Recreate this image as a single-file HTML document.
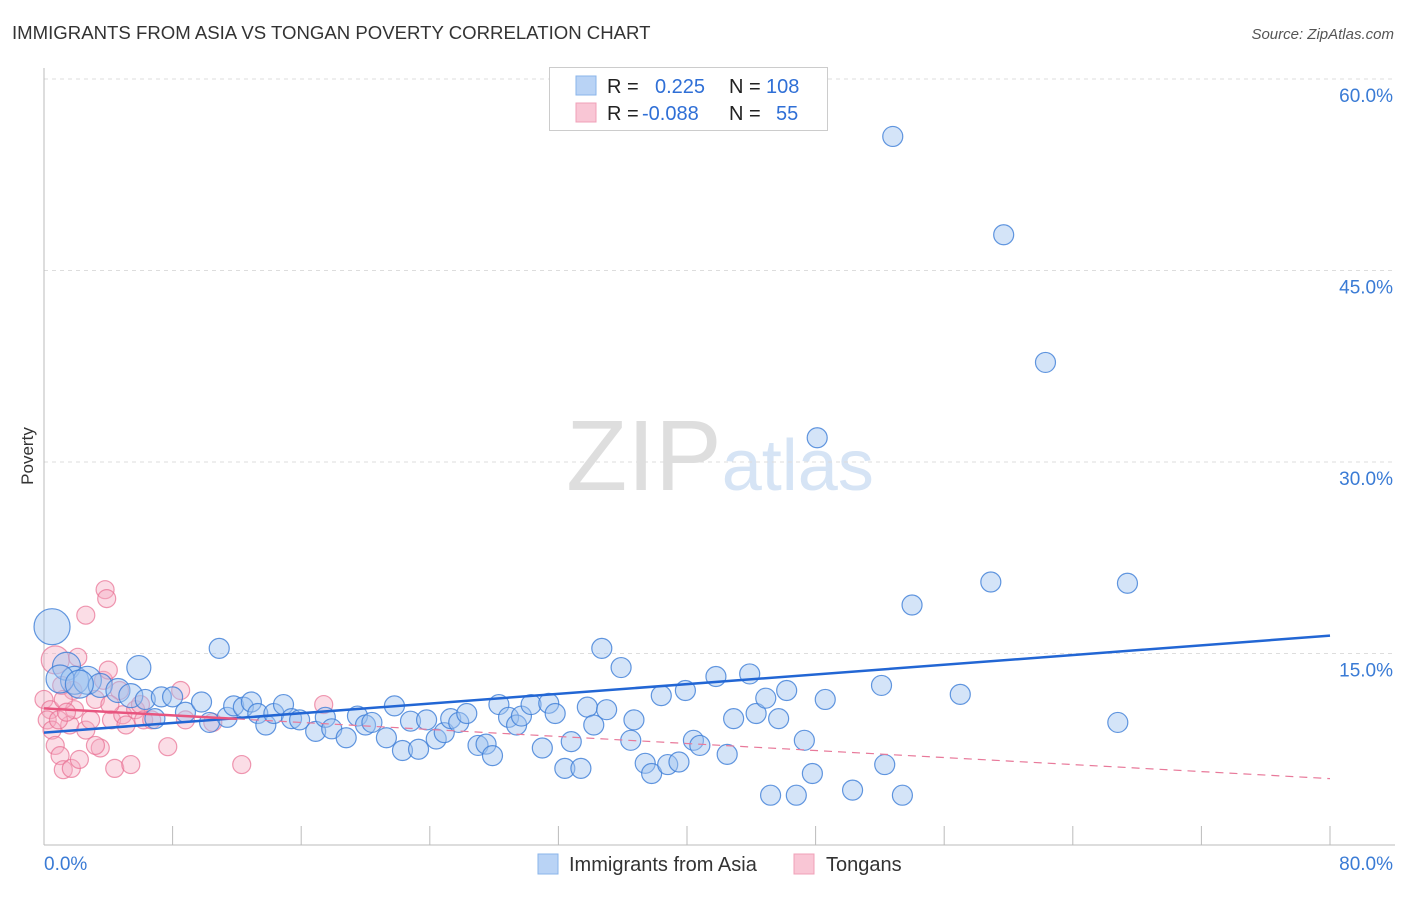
<!DOCTYPE html>
<html><head><meta charset="utf-8"><style>
body{margin:0;background:#fff;font-family:"Liberation Sans",sans-serif;}
svg text{font-family:"Liberation Sans",sans-serif;}
</style></head><body>
<svg id="chart" width="1406" height="892" viewBox="0 0 1406 892" xmlns="http://www.w3.org/2000/svg">
<text x="12" y="39" font-size="18.6" fill="#333">IMMIGRANTS FROM ASIA VS TONGAN POVERTY CORRELATION CHART</text>
<text x="1394" y="39" font-size="15" fill="#555" text-anchor="end" font-style="italic">Source: ZipAtlas.com</text>
<text transform="translate(33,456) rotate(-90)" font-size="17" fill="#333" text-anchor="middle">Poverty</text>
<text x="720" y="490" font-size="100" fill="#e6e6e6" text-anchor="middle" font-family="Liberation Serif"><tspan fill="#dedede">ZIP</tspan><tspan fill="#d6e4f5" font-family="Liberation Sans" font-size="72">atlas</tspan></text>
<g id="grid"></g>
<g id="axes"></g>
<g id="pink"></g>
<g id="blue"></g>
<g id="lines"></g>
<g>
<rect x="549.5" y="67.5" width="278" height="63" fill="#fff" stroke="#ccc"/>
<rect x="576" y="76" width="20" height="19" fill="#b9d3f5" stroke="#8ab4ea"/>
<rect x="576" y="103" width="20" height="19" fill="#f9c6d5" stroke="#f0a0b8"/>
<text x="607" y="93" font-size="20" fill="#222">R = <tspan fill="#2f6fd6" x="655">0.225</tspan><tspan fill="#222" x="729">N = </tspan><tspan fill="#2f6fd6" x="766">108</tspan></text>
<text x="607" y="120" font-size="20" fill="#222">R = <tspan fill="#2f6fd6" x="642">-0.088</tspan><tspan fill="#222" x="729">N = </tspan><tspan fill="#2f6fd6" x="776">55</tspan></text>
</g>
<g>
<rect x="538" y="854" width="20" height="20" fill="#b9d3f5" stroke="#8ab4ea"/>
<text x="569" y="871" font-size="20" fill="#333">Immigrants from Asia</text>
<rect x="794" y="854" width="20" height="20" fill="#f9c6d5" stroke="#f0a0b8"/>
<text x="826" y="871" font-size="20" fill="#333">Tongans</text>
</g>
</svg>
<script>
const xTicks=[0,8,16,24,32,40,48,56,64,72,80];
const yTicks=[15,30,45,60];
const yTickLabels=["15.0%","30.0%","45.0%","60.0%"];
const xEndLabels=["0.0%","80.0%"];
const blueX=[52.8,59.7,62.3,48.1,58.9,67.4,54.0,34.7,35.9,10.9,5.9,0.5,1.4,1.9,2.7,3.5,4.6,5.4,6.3,6.9,7.3,8.0,8.8,9.8,10.3,11.4,11.8,12.4,12.9,13.3,13.8,14.3,14.9,15.4,15.9,16.9,17.5,17.9,18.8,19.5,20.0,20.4,21.3,21.8,22.3,22.8,23.3,23.8,24.4,24.9,25.3,25.8,26.3,27.0,27.5,27.9,28.3,28.9,29.4,29.7,30.3,31.0,31.4,31.8,32.4,32.8,33.4,33.8,34.2,35.0,36.5,36.7,37.4,37.8,38.4,38.8,39.5,39.9,40.4,40.8,41.8,42.5,42.9,43.9,44.3,44.9,45.2,45.7,46.2,46.8,47.3,47.8,48.6,50.3,52.1,52.3,53.4,57.0,66.8,1.0,2.2];
const blueY=[55.5,47.8,37.8,31.9,20.6,20.5,18.8,15.4,13.9,15.4,13.9,17.1,14.0,12.9,12.9,12.5,12.1,11.7,11.4,9.9,11.6,11.6,10.4,11.2,9.6,10.0,10.9,10.8,11.2,10.3,9.4,10.3,11.0,9.9,9.8,8.9,10.0,9.1,8.4,10.1,9.4,9.6,8.4,10.9,7.4,9.7,7.5,9.8,8.3,8.8,9.9,9.6,10.3,7.8,7.9,7.0,11.0,10.0,9.4,10.1,11.0,7.6,11.1,10.3,6.0,8.1,6.0,10.8,9.4,10.6,8.2,9.8,6.4,5.6,11.7,6.3,6.5,12.1,8.2,7.8,13.2,7.1,9.9,13.4,10.3,11.5,3.9,9.9,12.1,3.9,8.2,5.6,11.4,4.3,12.5,6.3,3.9,11.8,9.6,13.0,12.6];
const pinkX=[0.7,0,0.4,0.2,0.5,0.7,1.0,1.2,1.7,1.6,1.9,2.2,2.6,2.9,3.2,3.5,3.7,3.8,3.9,2.6,4.0,4.2,4.4,4.7,4.9,5.1,5.4,5.7,6.0,6.2,6.7,7.7,8.5,8.8,10.5,12.3,17.4,2.1,1.8,1.1,1.2,3.2,0.9,1.4,4.1];
const pinkY=[14.5,11.4,10.6,9.8,9.0,7.8,7.0,5.9,6.0,9.4,10.6,6.7,9.0,9.8,11.4,7.6,12.9,20.0,19.3,18.0,13.7,9.8,6.0,12.1,10.2,9.4,6.3,10.6,11.0,9.8,9.8,7.7,12.1,9.8,9.6,6.3,11.0,14.7,12.1,12.5,11.4,7.8,9.8,10.4,11.0];
const blueTrend=[8.8,16.4];
const pinkTrend=[10.7,5.2];
const pinkSolidEnd=12;

const X0=44,X1=1330,Y0=845,PXY=191.5/15;
const sx=v=>X0+(X1-X0)*v/80;
const sy=v=>Y0-v*PXY;
const NS="http://www.w3.org/2000/svg";
function mk(tag,parent,attrs){const e=document.createElementNS(NS,tag);for(const k in attrs)e.setAttribute(k,attrs[k]);document.getElementById(parent).appendChild(e);return e;}

yTicks.forEach((t,i)=>{
  const g=mk("line","grid",{x1:X0,x2:1395,y1:sy(t),y2:sy(t),stroke:"#ddd","stroke-dasharray":"4 4"});
  
  
  const l=mk("text","axes",{x:1393,y:sy(t)+23,"font-size":19,fill:"#3a7bd5","text-anchor":"end"});
  l.textContent=yTickLabels[i];
  
  
});
const ya=mk("line","axes",{x1:X0,x2:X0,y1:68,y2:Y0,stroke:"#bbb"});


const xa=mk("line","axes",{x1:X0,x2:1395,y1:Y0,y2:Y0,stroke:"#bbb"});


xTicks.forEach(t=>{
  const tk=mk("line","axes",{x1:sx(t),x2:sx(t),y1:826,y2:Y0,stroke:"#bbb"});
  
  
});
const xl0=mk("text","axes",{x:44,y:870,"font-size":19,fill:"#3a7bd5"});
xl0.textContent=xEndLabels[0];


const xl1=mk("text","axes",{x:1393,y:870,"font-size":19,fill:"#3a7bd5","text-anchor":"end"});
xl1.textContent=xEndLabels[1];



pinkX.forEach((x,i)=>{
  const c=mk("circle","pink",{cx:sx(x),cy:sy(pinkY[i]),r:i===0?14:9,fill:"rgba(246,170,192,0.4)",stroke:"rgba(232,110,145,0.7)","stroke-width":1.2});
  
  
});
blueX.forEach((x,i)=>{
  const r=x<1?18:(x<3?14:(x<6?12:10));
  const c=mk("circle","blue",{cx:sx(x),cy:sy(blueY[i]),r:r,fill:"rgba(160,196,240,0.45)",stroke:"rgba(60,125,215,0.8)","stroke-width":1.2});
  
  
});
const bl=mk("line","lines",{x1:sx(0),y1:sy(blueTrend[0]),x2:sx(80),y2:sy(blueTrend[1]),stroke:"#2266d4","stroke-width":2.5});


const pm=pinkTrend[0]+(pinkTrend[1]-pinkTrend[0])*pinkSolidEnd/80;
const ps=mk("line","lines",{x1:sx(0),y1:sy(pinkTrend[0]),x2:sx(pinkSolidEnd),y2:sy(pm),stroke:"#e8557f","stroke-width":2.5});


const pd=mk("line","lines",{x1:sx(pinkSolidEnd),y1:sy(pm),x2:sx(80),y2:sy(pinkTrend[1]),stroke:"#e8799a","stroke-width":1.2,"stroke-dasharray":"8 6"});


</script>
</body></html>
